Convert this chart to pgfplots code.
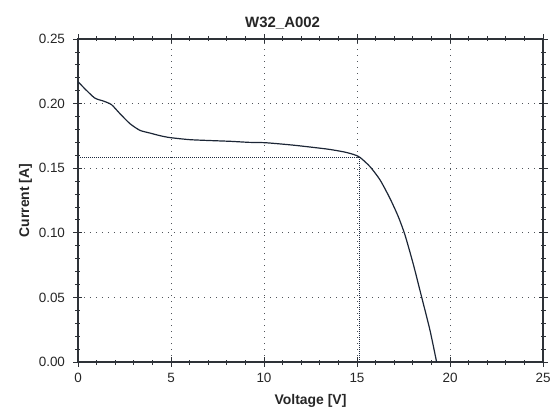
\documentclass[border=0pt]{standalone}
\usepackage{fontspec}
\setmainfont{Liberation Sans}
\usepackage{pgfplots}
\pgfplotsset{compat=1.18}
\definecolor{curvecol}{HTML}{1C2636}
\definecolor{axiscol}{HTML}{2E3238}
\definecolor{gridcol}{HTML}{50545A}
\definecolor{mppcol}{HTML}{1E2A40}
\begin{document}
\begin{tikzpicture}
\path[use as bounding box] (-78bp,-52bp) rectangle (473bp,362bp);
\begin{axis}[
  scale only axis,
  width=465bp, height=323bp,
  xmin=0, xmax=25, ymin=0, ymax=0.25,
  xtick={0,5,10,15,20,25},
  ytick={0,0.05,0.1,0.15,0.2,0.25},
  minor x tick num=4, minor y tick num=4,
  tick align=center,
  major tick length=9bp, minor tick length=5bp,
  tick style={axiscol, line width=0.8bp},
  axis line style={axiscol, line width=1.1bp},
  grid=major,
  major grid style={gridcol, line width=0.9bp, dash pattern=on 1.2bp off 4.8bp},
  /pgf/number format/assume math mode=true,
  yticklabel style={/pgf/number format/.cd, fixed, fixed zerofill, precision=2, /tikz/.cd, xshift=-5bp},
  xticklabel style={yshift=-3bp},
  ticklabel style={font=\fontsize{13.5}{15}\selectfont, text=black!85},
  xlabel={Voltage [V]},
  ylabel={Current [A]},
  xlabel style={font=\bfseries\fontsize{14}{16}\selectfont, text=black!85, yshift=-5bp},
  ylabel style={font=\bfseries\fontsize{14}{16}\selectfont, text=black!85},
  title={W32\_A002},
  title style={font=\bfseries\fontsize{15}{17}\selectfont, text=black!85, at={(0.44,1)}},
]
\addplot[mppcol, line width=1.3bp, dash pattern=on 1bp off 1bp]
  coordinates {(0,0.1585) (15.15,0.1585) (15.15,0)};
\addplot[curvecol, line width=1.2bp, smooth, tension=0.4] coordinates {
  (0,0.217) (0.36,0.2116) (0.9,0.2043) (1.36,0.2020) (1.8,0.1992)
  (2.25,0.1923) (2.79,0.1845) (3.33,0.1793) (3.87,0.1772) (4.4,0.1752)
  (4.94,0.1737) (6.0,0.1721) (7.1,0.1714) (8.2,0.1708) (9.2,0.1700)
  (10.1,0.1697) (11.6,0.1678) (13.4,0.1648) (14.3,0.1626) (14.8,0.1607)
  (15.15,0.1585) (15.7,0.1512) (16.24,0.1409) (16.77,0.1267) (17.22,0.1125)
  (17.58,0.0983) (18.03,0.0755) (18.48,0.0500) (18.92,0.0248) (19.28,0)
};
\end{axis}
\end{tikzpicture}
\end{document}
